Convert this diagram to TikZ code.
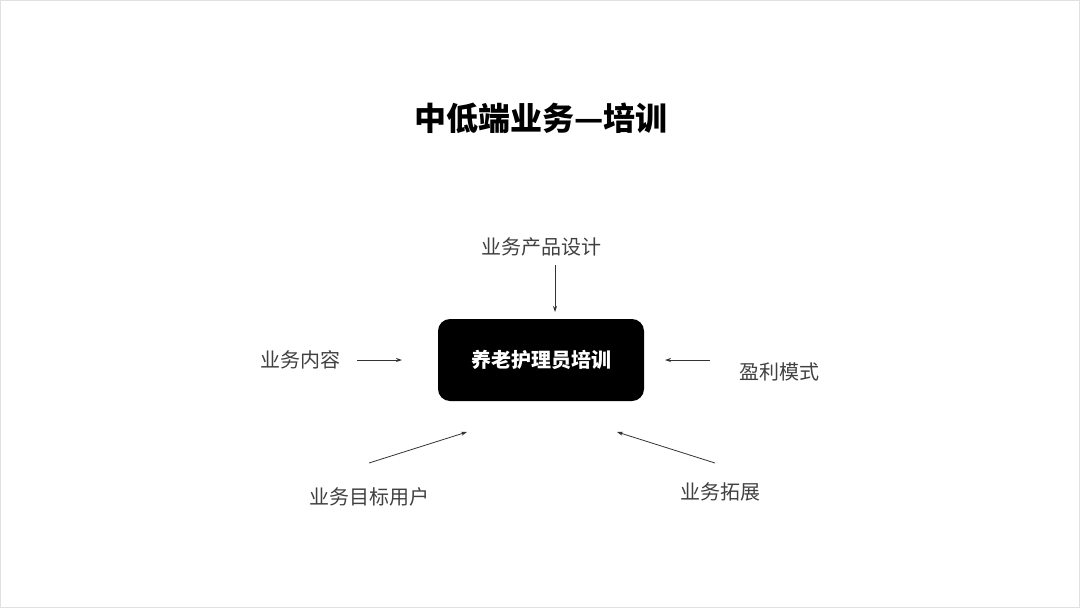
\documentclass[tikz,border=0pt]{standalone}
\usepackage{fontspec}
\newfontfamily\cjk{Noto Sans CJK SC}
\usetikzlibrary{arrows.meta}
\begin{document}
\begin{tikzpicture}[x=1pt,y=-1pt,
  lbl/.style={font=\cjk\fontsize{20}{24}\selectfont, text=black!75},
  arr/.style={draw=black!80, line width=0.8pt, -{Stealth[length=6pt,width=4pt]}}]
\useasboundingbox (0,0) rectangle (1080,608);
\draw[black!12, line width=1pt] (0.5,0.5) rectangle (1079.5,607.5);
\node[font=\cjk\bfseries\fontsize{32}{38}\selectfont] (title) at (541,118) {中低端业务—培训};
\node[fill=black, rounded corners=12pt, minimum width=206pt, minimum height=82pt,
  text=white, font=\cjk\bfseries\fontsize{20}{24}\selectfont] (core) at (541,360) {养老护理员培训};
\node[lbl] (top) at (541,247) {业务产品设计};
\node[lbl] (left) at (300,360) {业务内容};
\node[lbl] (right) at (779,372) {盈利模式};
\node[lbl] (bl) at (369,497) {业务目标用户};
\node[lbl] (br) at (720,492) {业务拓展};
\coordinate (t1) at (555,265); \coordinate (t2) at (555,312);
\coordinate (l1) at (357,360); \coordinate (l2) at (402,360);
\coordinate (r1) at (710,360); \coordinate (r2) at (665,360);
\coordinate (a1) at (369,463); \coordinate (a2) at (467,432);
\coordinate (b1) at (715,463); \coordinate (b2) at (617,432);
\draw[arr] (t1) -- (t2);
\draw[arr] (l1) -- (l2);
\draw[arr] (r1) -- (r2);
\draw[arr] (a1) -- (a2);
\draw[arr] (b1) -- (b2);
\end{tikzpicture}
\end{document}
